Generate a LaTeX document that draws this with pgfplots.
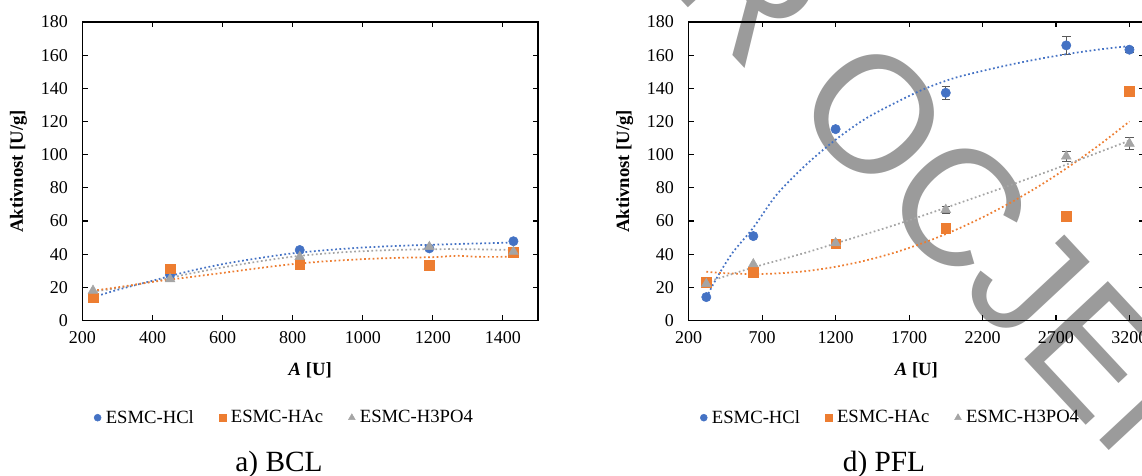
\documentclass[border=0pt]{standalone}
\usepackage{fontspec}
\setmainfont{Liberation Serif}
\newfontfamily\wmfont{Liberation Sans}
\usepackage{pgfplots}
\pgfplotsset{compat=1.18}

\definecolor{cHCl}{HTML}{4472C4}
\definecolor{cHAc}{HTML}{ED7D31}
\definecolor{cHP}{HTML}{A5A5A5}
\definecolor{wm}{HTML}{9B9B9B}
\definecolor{ebar}{HTML}{595959}

\tikzset{
  stamp/.style={inner sep=0pt, rotate=-47, text=wm,
    font=\wmfont\fontsize{124.5}{124.5}\selectfont},
}

\pgfplotsset{
  panel/.style={
    scale only axis, width=341.6pt, height=223.875pt,
    anchor=south west,
    ymin=0, ymax=180, ytick={0,20,...,180},
    tick align=inside, major tick length=4pt,
    axis line style={line width=0.8pt},
    tick style={black, line width=0.8pt},
    ticklabel style={font=\fontsize{13.5}{16}\selectfont},
    /pgf/number format/assume math mode=true,
    /pgf/number format/1000 sep={},
    yticklabel style={xshift=-7.5pt},
    xticklabel style={yshift=-5pt},
    ylabel={\textbf{Aktivnost [U/g]}},
    xlabel={\textbf{\textit{A} [U]}},
    every axis y label/.style={at={(axis description cs:-0.1404,0.5)},
      rotate=90, anchor=center, font=\fontsize{14}{16}\selectfont},
    every axis x label/.style={at={(axis description cs:0.5,-0.1675)},
      anchor=center, font=\fontsize{14}{16}\selectfont},
    legend columns=3,
    legend style={draw=none, fill=none, inner sep=0pt,
      font=\fontsize{14}{16}\selectfont,
      at={(axis description cs:0.4443,-0.3256)}, anchor=center,
      /tikz/every even column/.append style={column sep=17pt},
      /tikz/every odd column/.append style={column sep=1.5pt}},
  },
  sHCl/.style={only marks, mark=*, mark size=3.5pt, color=cHCl,
    legend image code/.code={\draw[##1, mark size=2.6pt] plot coordinates {(0pt,0pt)};}},
  sHAc/.style={only marks, mark=square*, mark size=3.6pt, color=cHAc,
    legend image code/.code={\draw[##1, mark size=2.6pt] plot coordinates {(0pt,0pt)};}},
  sHP/.style={only marks, mark=triangle*, mark size=4.2pt, color=cHP,
    legend image code/.code={\draw[##1, mark size=2.9pt] plot coordinates {(0pt,0pt)};}},
  trend/.style={forget plot, smooth, no markers, line width=1.3pt,
    dash pattern=on 1.3pt off 1.9pt},
  errs/.style={forget plot, draw=none, mark=none,
    error bars/.cd, y dir=both, y explicit,
    error bar style={draw=ebar, line width=0.9pt, solid},
    error mark options={draw=ebar, rotate=90, mark size=3.2pt, line width=0.9pt}},
}

\begin{document}
\begin{tikzpicture}
\useasboundingbox (0,0) rectangle (856.5pt,356.25pt);
\clip (0,0) rectangle (856.5pt,356.25pt);

% review stamp behind the charts
\node[stamp, anchor=base east] at (562.5pt,300.75pt) {PR};
\node[stamp, anchor=base west] at (591.4pt,276.5pt) {OCJENA};

% ---------- a) BCL ----------
\begin{axis}[panel, at={(61.875pt,115.875pt)},
  xmin=200, xmax=1500, xtick={200,400,...,1400}]
\addplot[sHCl] coordinates {(230,15) (450,27.5) (820,42.5) (1190,43.5) (1430,47.8)};
\addlegendentry{ESMC-HCl}
\addplot[sHAc] coordinates {(230,13.7) (450,31.2) (820,33.8) (1190,33.3) (1430,41)};
\addlegendentry{ESMC-HAc}
\addplot[sHP] coordinates {(230,18) (450,25) (820,38.4) (1190,44.4) (1430,41.5)};
\addlegendentry{ESMC-H3PO4}
% trend lines
\addplot[trend, cHCl] coordinates {(230,14) (300,18.5) (400,24) (500,29.5) (600,34)
  (700,37.5) (800,40.5) (900,42.5) (1000,44) (1100,45) (1200,45.7) (1300,46.3) (1430,47)};
\addplot[trend, cHP] coordinates {(230,17.5) (300,19.5) (400,23.5) (500,28) (600,32)
  (700,35.5) (800,38.5) (900,40.5) (1000,41.8) (1100,42.6) (1200,43) (1300,43) (1430,42.5)};
\addplot[trend, cHAc] coordinates {(230,18) (300,20) (400,23.3) (500,26) (600,28.7)
  (700,31.5) (800,34) (900,35.8) (1000,37) (1100,37.8) (1200,38.2) (1270,39) (1330,38.4) (1430,38.4)};
\end{axis}

% ---------- d) PFL ----------
\begin{axis}[panel, at={(516.5pt,115.875pt)},
  xmin=200, xmax=3300, xtick={200,700,...,3200}]
\addplot[errs] table[x=x, y=y, y error=e] {
x y e
1950 137.3 3.8
2770 165.9 5.5
3200 163.3 1.5
};
\addplot[errs] table[x=x, y=y, y error=e] {
x y e
1950 66.8 2
2770 99 3
3200 106.7 3.5
};
\addplot[sHCl] coordinates {(320,14.1) (640,50.9) (1200,115.4) (1950,137.3) (2770,165.9) (3200,163.3)};
\addlegendentry{ESMC-HCl}
\addplot[sHAc] coordinates {(320,23) (640,29.2) (1200,46.3) (1950,55.6) (2770,63) (3200,138.3)};
\addlegendentry{ESMC-HAc}
\addplot[sHP] coordinates {(320,22.1) (640,34) (1200,46.7) (1950,66.8) (2770,99) (3200,106.7)};
\addlegendentry{ESMC-H3PO4}
% trend lines
\addplot[trend, cHCl] coordinates {(320,14) (400,27) (500,41) (640,56) (800,76) (1000,94)
  (1200,109) (1400,121.5) (1600,131) (1800,139.5) (2000,146) (2200,150.5) (2400,154.5)
  (2600,158) (2800,161) (3000,163.5) (3200,165.5)};
\addplot[trend, cHAc] coordinates {(320,29.4) (400,28.8) (500,28.3) (640,28) (800,28.4)
  (1000,29.8) (1200,32.4) (1400,36.1) (1600,40.9) (1800,46.9) (2000,54) (2200,62.2)
  (2400,71.5) (2600,81.9) (2800,93.5) (3000,106.2) (3200,120)};
\addplot[trend, cHP] coordinates {(320,23) (640,32) (1000,41) (1200,46.5) (1600,57.5)
  (1950,68) (2400,82) (2770,94) (3200,108.5)};
\end{axis}

% panel captions
\node[anchor=base, font=\fontsize{22}{26}\selectfont] at (209.25pt,3pt) {a) BCL};
\node[anchor=base, font=\fontsize{22}{26}\selectfont] at (663pt,3pt) {d) PFL};
\end{tikzpicture}
\end{document}
